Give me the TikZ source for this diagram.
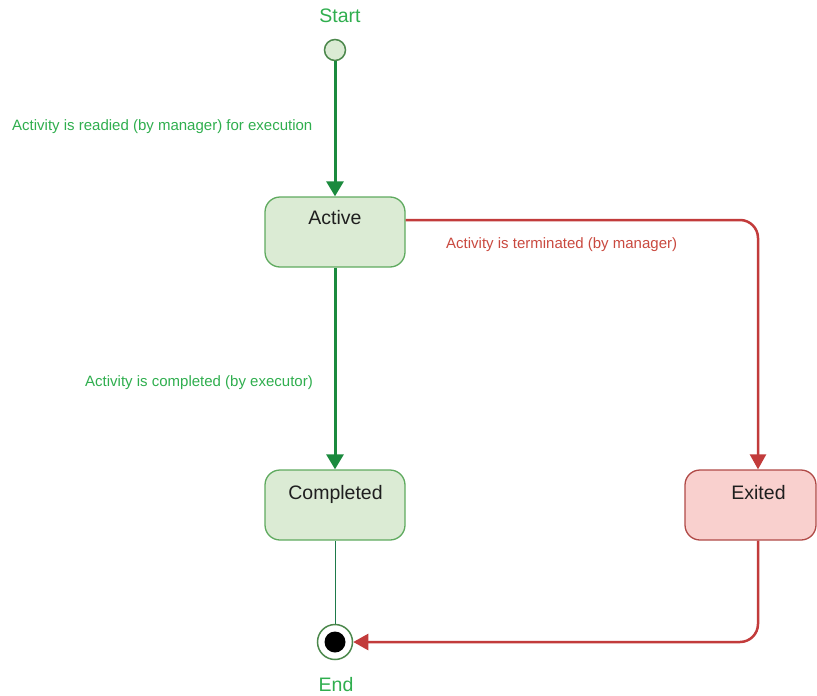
\documentclass[tikz,border=0pt]{standalone}
\usepackage{fontspec}
\setmainfont{Liberation Sans}
\usetikzlibrary{arrows.meta}
\definecolor{garrow}{HTML}{1B8A3E}
\definecolor{gtext}{HTML}{2FAE4E}
\definecolor{gfill}{HTML}{DBEBD4}
\definecolor{gstroke}{HTML}{5FAA5F}
\definecolor{rarrow}{HTML}{C23B3B}
\definecolor{rtext}{HTML}{C9493F}
\definecolor{rfill}{HTML}{F9D0CE}
\definecolor{rstroke}{HTML}{B04A47}
\definecolor{thin}{HTML}{1E7A4A}
\tikzset{
  statebox/.style={draw=gstroke, fill=gfill, line width=1.3pt, rounded corners=15pt,
    minimum width=140pt, minimum height=70pt, inner sep=0pt},
  exitbox/.style={statebox, draw=rstroke, fill=rfill, minimum width=131pt},
  big/.style={font=\fontsize{19.5}{22}\selectfont, text height=0.716em, text depth=0pt, inner sep=0pt, text=black!88},
  small/.style={font=\fontsize{15}{18}\selectfont, text height=0.716em, text depth=0pt, inner sep=0pt},
  garr/.style={draw=garrow, line width=3pt, -{Triangle[width=17pt,length=15pt]}},
  rarr/.style={draw=rarrow, line width=2.5pt, rounded corners=18pt, -{Triangle[width=16pt,length=15pt]}}
}
\begin{document}
\begin{tikzpicture}[x=1pt,y=-1pt]
\useasboundingbox (0,0) rectangle (817,696);
% start
\node[big, text=gtext] (starttxt) at (340,19) {Start};
\node[circle, draw=gstroke!80!black, fill=gfill, line width=1.5pt, minimum size=21pt, inner sep=0pt] (start) at (335,50) {};
% boxes
\node[statebox] (active) at (335,232) {};
\node[big] (activetxt) at (335,220.5) {Active};
\node[statebox] (completed) at (335,505) {};
\node[big] (completedtxt) at (335.5,495.5) {Completed};
\node[exitbox] (exited) at (750.5,505) {};
\node[big] (exitedtxt) at (758.5,495.5) {Exited};
% end
\node[circle, draw=gstroke!80!black, fill=white, line width=1.5pt, minimum size=35pt, inner sep=0pt] (endc) at (335,642) {};
\node[circle, fill=black, minimum size=21pt, inner sep=0pt] (enddot) at (335,642) {};
\node[big, text=gtext] (endtxt) at (336,688) {End};
% green arrows
\draw[garr] (start.south) -- (active.north);
\draw[garr] (active.south) -- (completed.north);
\draw[draw=thin, line width=1pt] (completed.south) -- (endc.north);
% red arrows
\coordinate (t1) at (758,220);
\coordinate (t2) at (758,642);
\draw[rarr] (active.east |- t1) -- (t1) -- (t1 |- exited.north);
\draw[rarr] (t2 |- exited.south) -- (t2) -- (endc.east);
% labels
\node[small, text=gtext, anchor=west] (l1) at (12,127) {Activity is readied (by manager) for execution};
\node[small, text=rtext, anchor=west] (l2) at (446,244.5) {Activity is terminated (by manager)};
\node[small, text=gtext, anchor=west] (l3) at (85,383) {Activity is completed (by executor)};
\end{tikzpicture}
\end{document}
